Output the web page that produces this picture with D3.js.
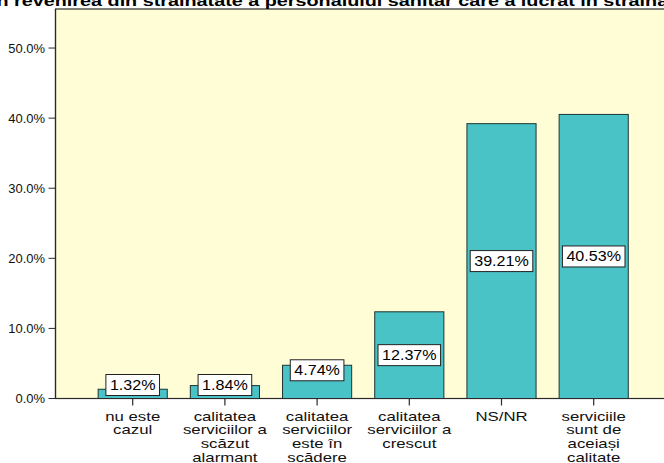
<!DOCTYPE html>
<html><head><meta charset="utf-8">
<script src="https://cdn.jsdelivr.net/npm/d3@7"></script>
<style>body{margin:0;background:#fff}svg{display:block}</style>
</head><body>
<svg id="c" width="664" height="463"></svg>
<script>
const title = "în revenirea din străinătate a personalului sanitar care a lucrat în străinătate";
const categories = [
  ["nu este","cazul"],
  ["calitatea","serviciilor a","scăzut","alarmant"],
  ["calitatea","serviciilor","este în","scădere"],
  ["calitatea","serviciilor a","crescut"],
  ["NS/NR"],
  ["serviciile","sunt de","aceiași","calitate"]
];
const values = [1.32, 1.84, 4.74, 12.37, 39.21, 40.53];
const yTicks = [0, 10, 20, 30, 40, 50];

(function(){
const svg = d3.select("#c");
const font = "Arial, 'Liberation Sans', sans-serif";
const pLeft = 55.5, pTop = 9, pBottom = 398.5, pRight = 680;

const x = d3.scaleBand().domain(d3.range(values.length)).range([86.6, 639.8]).paddingInner(0.25).paddingOuter(0.125);
const y = d3.scaleLinear().domain([0, 55.57]).range([pBottom, pTop]);

// plot background
svg.append("rect").attr("x", pLeft).attr("y", pTop).attr("width", pRight-pLeft).attr("height", pBottom-pTop)
  .attr("fill", "#FFFDD6").attr("stroke", "#2a2a2a").attr("stroke-width", 1.2);

// title (cut at top, as in the reference)
svg.append("text").attr("transform", "translate(-9,6) scale(1.32,1)")
  .attr("font-family", font).attr("font-weight", "bold").attr("font-size", 15).attr("fill", "#000")
  .text(title);

// bars
svg.selectAll("rect.bar").data(values).join("rect").attr("class","bar")
  .attr("x", (d,i)=>x(i)).attr("width", x.bandwidth())
  .attr("y", d=>y(d)).attr("height", d=>y(0)-y(d))
  .attr("fill", "#49C3C6").attr("stroke", "#1d3535").attr("stroke-width", 1);

// y axis
const ya = svg.append("g");
ya.append("line").attr("x1", pLeft).attr("x2", pLeft).attr("y1", pTop).attr("y2", pBottom).attr("stroke", "#2a2a2a").attr("stroke-width", 1.2);
yTicks.forEach(t => {
  ya.append("line").attr("x1", pLeft-7).attr("x2", pLeft).attr("y1", y(t)).attr("y2", y(t)).attr("stroke", "#2a2a2a");
  ya.append("text").attr("transform", `translate(45,${y(t)+4.5}) scale(1.08,1)`)
    .attr("text-anchor", "end").attr("font-family", font).attr("font-size", 12).attr("fill", "#111")
    .text(d3.format(".1f")(t) + "%");
});

// x axis
svg.append("line").attr("x1", pLeft).attr("x2", 664).attr("y1", pBottom).attr("y2", pBottom).attr("stroke", "#2a2a2a").attr("stroke-width", 1.2);
categories.forEach((lines, i) => {
  const cx = x(i) + x.bandwidth()/2;
  svg.append("line").attr("x1", cx).attr("x2", cx).attr("y1", pBottom).attr("y2", pBottom+7).attr("stroke", "#2a2a2a").attr("stroke-width", 1.2);
  const g = svg.append("g").attr("transform", `translate(${cx},420.5) scale(1.4,1)`);
  lines.forEach((l, j) => {
    g.append("text").attr("y", j*13.8).attr("text-anchor", "middle")
      .attr("font-family", font).attr("font-size", 12).attr("fill", "#111").text(l);
  });
});

// value labels
const boxH = 21;
values.forEach((v, i) => {
  const cx = x(i) + x.bandwidth()/2;
  const barH = y(0) - y(v);
  const cy = barH > 2*boxH ? y(v/2) : Math.min(y(v) + 5, y(0) - boxH/2 - 3);
  const txt = v.toFixed(2) + "%";
  const g = svg.append("g");
  const t = g.append("text").attr("transform", `translate(${cx},${cy+5}) scale(1.15,1)`)
    .attr("text-anchor", "middle").attr("font-family", font).attr("font-size", 14).attr("fill", "#000").text(txt);
  const w = t.node().getBBox().width * 1.15 + 8;
  g.insert("rect", "text").attr("x", cx - w/2).attr("y", cy - boxH/2).attr("width", w).attr("height", boxH)
    .attr("fill", "#fff").attr("stroke", "#222").attr("stroke-width", 1);
});
})();
</script>
</body></html>
